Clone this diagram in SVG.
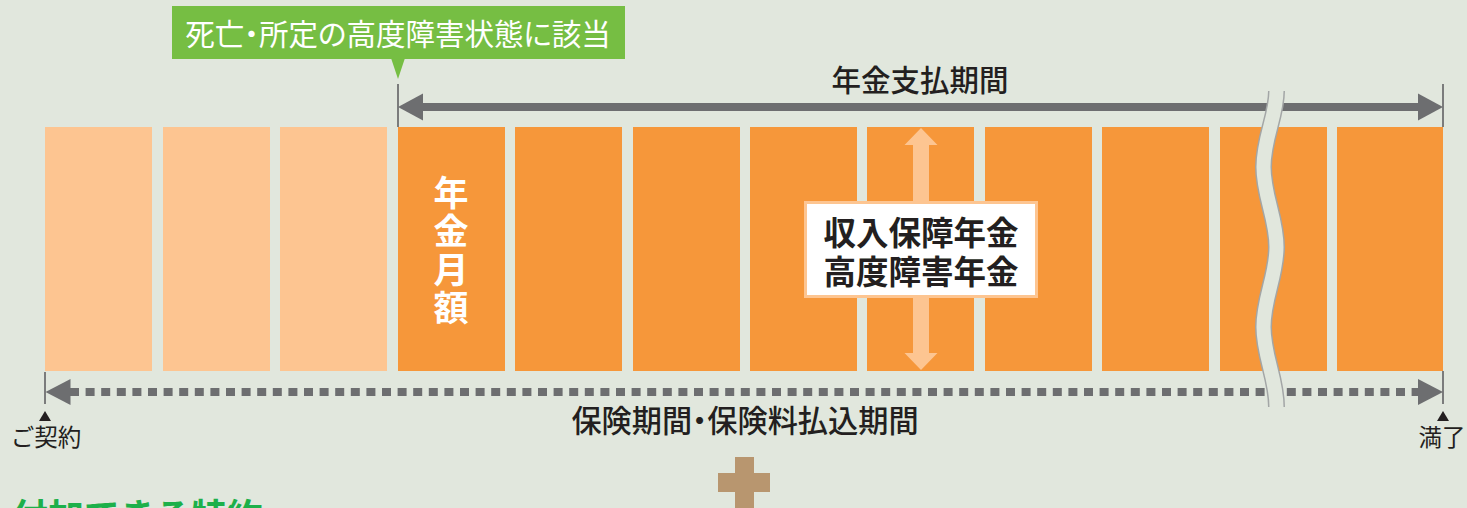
<svg xmlns="http://www.w3.org/2000/svg" width="1467" height="508" viewBox="0 0 1467 508">
<defs>
<style>
.jp{font-family:"Noto Sans CJK JP","Noto Sans CJK SC",sans-serif}
.palt{font-feature-settings:"palt" 1}
.light{fill:#fdc591}
.dark{fill:#f6973a}
.tick{stroke:#58595b;stroke-width:1.5}
.lbl{fill:#231f20;font-size:23.5px}
</style>
</defs>
<rect width="1467" height="508" fill="#e1e7dd"/>

<g id="columns">
<rect class="light" x="45" y="127" width="107" height="244"/>
<rect class="light" x="163" y="127" width="107" height="244"/>
<rect class="light" x="280" y="127" width="107" height="244"/>
<rect class="dark" x="398" y="127" width="107" height="244"/>
<rect class="dark" x="515" y="127" width="107" height="244"/>
<rect class="dark" x="633" y="127" width="107" height="244"/>
<rect class="dark" x="750" y="127" width="107" height="244"/>
<rect class="dark" x="867" y="127" width="107" height="244"/>
<rect class="dark" x="985" y="127" width="107" height="244"/>
<rect class="dark" x="1102" y="127" width="107" height="244"/>
<rect class="dark" x="1220" y="127" width="107" height="244"/>
<rect class="dark" x="1337" y="127" width="106" height="244"/>
</g>

<g id="monthly-label">
<text class="jp" x="451" y="190" font-size="35" font-weight="700" fill="#ffffff" text-anchor="middle" dominant-baseline="central">年</text>
<text class="jp" x="451" y="228" font-size="35" font-weight="700" fill="#ffffff" text-anchor="middle" dominant-baseline="central">金</text>
<text class="jp" x="451" y="267" font-size="35" font-weight="700" fill="#ffffff" text-anchor="middle" dominant-baseline="central">月</text>
<text class="jp" x="451" y="305" font-size="35" font-weight="700" fill="#ffffff" text-anchor="middle" dominant-baseline="central">額</text>
</g>

<g id="connectors">
<line class="tick" x1="398" y1="84" x2="398" y2="127"/>
<line class="tick" x1="1443" y1="84" x2="1443" y2="127"/>
<line class="tick" x1="45" y1="372" x2="45" y2="404"/>
<line class="tick" x1="1443" y1="371" x2="1443" y2="404"/>
<rect x="420" y="103" width="1002" height="8" fill="#6d6e70"/>
<polygon points="398,107 423,93.5 423,120.5" fill="#6d6e70"/>
<polygon points="1443,107 1418,93.5 1418,120.5" fill="#6d6e70"/>
<line x1="70" y1="392" x2="1420" y2="392" stroke="#6d6e70" stroke-width="8" stroke-dasharray="9 6.6"/>
<polygon points="45.5,392 70.5,379 70.5,405" fill="#6d6e70"/>
<polygon points="1443,392 1418,379 1418,405" fill="#6d6e70"/>
<polygon points="921,128 904.5,145 913,145 913,353 904.5,353 921,370 937.5,353 929,353 929,145 937.5,145" fill="#fdc591"/>
<polygon points="45,411 39,421 51,421" fill="#231f20"/>
<polygon points="1443,411 1437,421 1449,421" fill="#231f20"/>
</g>

<g id="break">
<path d="M1276.5,91 C1276.5,116 1263.5,138 1263.5,167 C1263.5,196 1276.5,218 1276.5,247 C1276.5,276 1263.5,298 1263.5,327 C1263.5,356 1276.5,378 1276.5,407" fill="none" stroke="#a3a6a6" stroke-width="17"/>
<path d="M1276.5,91 C1276.5,116 1263.5,138 1263.5,167 C1263.5,196 1276.5,218 1276.5,247 C1276.5,276 1263.5,298 1263.5,327 C1263.5,356 1276.5,378 1276.5,407" fill="none" stroke="#e1e7dd" stroke-width="14"/>
</g>

<g id="callout">
<rect x="172" y="6" width="453" height="53" fill="#76be43"/>
<polygon points="391,58 405,58 398,79" fill="#76be43"/>
<text class="jp palt" x="398" y="32" font-size="29.5" fill="#ffffff" text-anchor="middle" dominant-baseline="central">死亡・所定の高度障害状態に該当</text>
</g>

<g id="payment-period">
<text class="jp" x="920" y="77.5" font-size="29.5" font-weight="500" fill="#231f20" text-anchor="middle" dominant-baseline="central">年金支払期間</text>
</g>

<g id="annuity-box">
<rect x="805.5" y="202.5" width="231" height="94" fill="#ffffff" stroke="#fdc591" stroke-width="3"/>
<text class="jp" x="921" y="230" font-size="32.5" font-weight="700" fill="#231f20" text-anchor="middle" dominant-baseline="central">収入保障年金</text>
<text class="jp" x="921" y="269" font-size="32.5" font-weight="700" fill="#231f20" text-anchor="middle" dominant-baseline="central">高度障害年金</text>
</g>

<g id="insurance-period">
<text class="jp palt" x="745" y="419" font-size="30.2" font-weight="500" fill="#231f20" text-anchor="middle" dominant-baseline="central">保険期間・保険料払込期間</text>
</g>

<g id="start-label">
<text class="jp lbl" x="46" y="436" text-anchor="middle" dominant-baseline="central">ご契約</text>
</g>
<g id="end-label">
<text class="jp lbl" x="1442" y="436" text-anchor="middle" dominant-baseline="central">満了</text>
</g>

<g id="plus">
<rect x="735" y="457" width="19" height="60" fill="#b8966f"/>
<rect x="718" y="473" width="52" height="19" fill="#b8966f"/>
</g>

<g id="rider-heading">
<text class="jp" x="12" y="530" font-size="36" font-weight="700" fill="#1db04a">付加できる特約</text>
</g>
</svg>
